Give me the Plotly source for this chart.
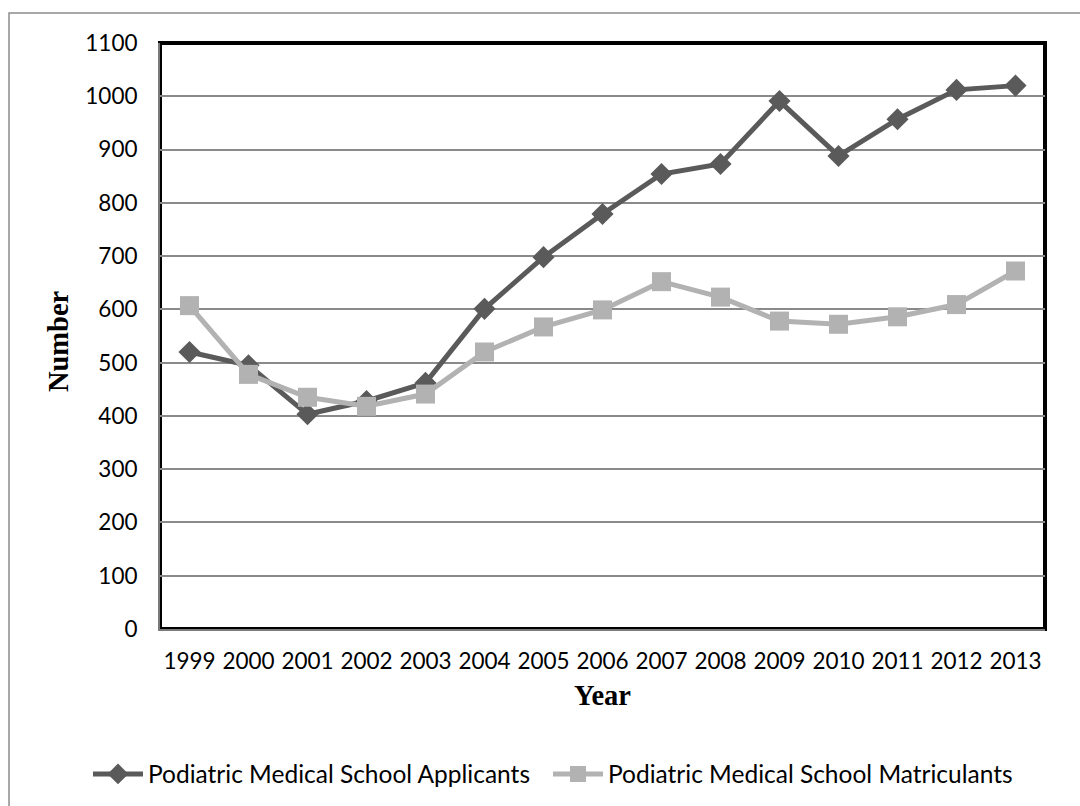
import plotly.graph_objects as go

years = ["1999", "2000", "2001", "2002", "2003", "2004", "2005", "2006",
         "2007", "2008", "2009", "2010", "2011", "2012", "2013"]
applicants = [520, 495, 403, 428, 462, 601, 698, 779, 854, 873, 991, 888, 957, 1012, 1020]
matriculants = [607, 478, 435, 418, 441, 520, 567, 599, 652, 623, 578, 572, 586, 609, 672]
y_ticks = list(range(0, 1101, 100))

fig = go.Figure()
fig.add_trace(go.Scatter(
    x=years, y=applicants, mode="lines+markers",
    name="Podiatric Medical School Applicants", legend="legend",
    line=dict(color="#5a5a5a", width=5),
    marker=dict(symbol="diamond", size=17, color="#5a5a5a"),
))
fig.add_trace(go.Scatter(
    x=years, y=matriculants, mode="lines+markers",
    name="Podiatric Medical School Matriculants", legend="legend2",
    line=dict(color="#b2b2b2", width=5),
    marker=dict(symbol="square", size=19, color="#b2b2b2"),
))

tick_font = dict(family="Lato, 'Open Sans', sans-serif", size=22.5, color="#000000")
title_font = dict(family="'Liberation Serif', 'Times New Roman', serif", size=28.5, color="#000000")
legend_font = dict(family="Lato, 'Open Sans', sans-serif", size=24.5, color="#000000")

fig.update_xaxes(
    type="category", categoryorder="array", categoryarray=years,
    range=[-0.5, len(years) - 0.5], automargin=False,
    showgrid=False, showline=True, linecolor="#7a7a7a", linewidth=2,
    ticks="", tickfont=tick_font, ticklabelstandoff=11,
)
fig.update_yaxes(
    range=[0, 1100], tickvals=y_ticks, automargin=False,
    showgrid=True, gridcolor="#8a8a8a", gridwidth=1.5,
    showline=True, linecolor="#7a7a7a", linewidth=2,
    ticks="", tickfont=tick_font, ticklabelstandoff=16, zeroline=False,
)

# Axis titles
fig.add_annotation(text="<b>Year</b>", xref="paper", yref="paper",
                   x=0.5, y=-0.114, xanchor="center", yanchor="middle",
                   showarrow=False, font=title_font)
fig.add_annotation(text="<b>Number</b>", xref="paper", yref="paper",
                   x=-0.114, y=0.4915, xanchor="center", yanchor="middle",
                   textangle=-90, showarrow=False, font=title_font)

# Plot-area frame and outer chart border
fig.add_shape(type="rect", xref="paper", yref="paper", x0=0, y0=0, x1=1, y1=1,
              line=dict(color="#000000", width=4), layer="below")
fig.add_shape(type="rect", xref="paper", yref="paper",
              x0=-0.1706, y0=-0.309, x1=1.0418, y1=1.0512,
              line=dict(color="#8c8c8c", width=1.5), layer="below")

legend_common = dict(
    orientation="h", xref="container", yref="container",
    y=0.0397, xanchor="left", yanchor="middle",
    font=legend_font, itemwidth=50, bgcolor="rgba(0,0,0,0)",
)

fig.update_layout(
    width=1080, height=806,
    margin=dict(l=160, r=35, t=43, b=177, autoexpand=False),
    paper_bgcolor="#ffffff", plot_bgcolor="#ffffff",
    showlegend=True,
    legend=dict(x=88 / 1080, **legend_common),
    legend2=dict(x=548 / 1080, **legend_common),
)

fig.write_html("out.html")
